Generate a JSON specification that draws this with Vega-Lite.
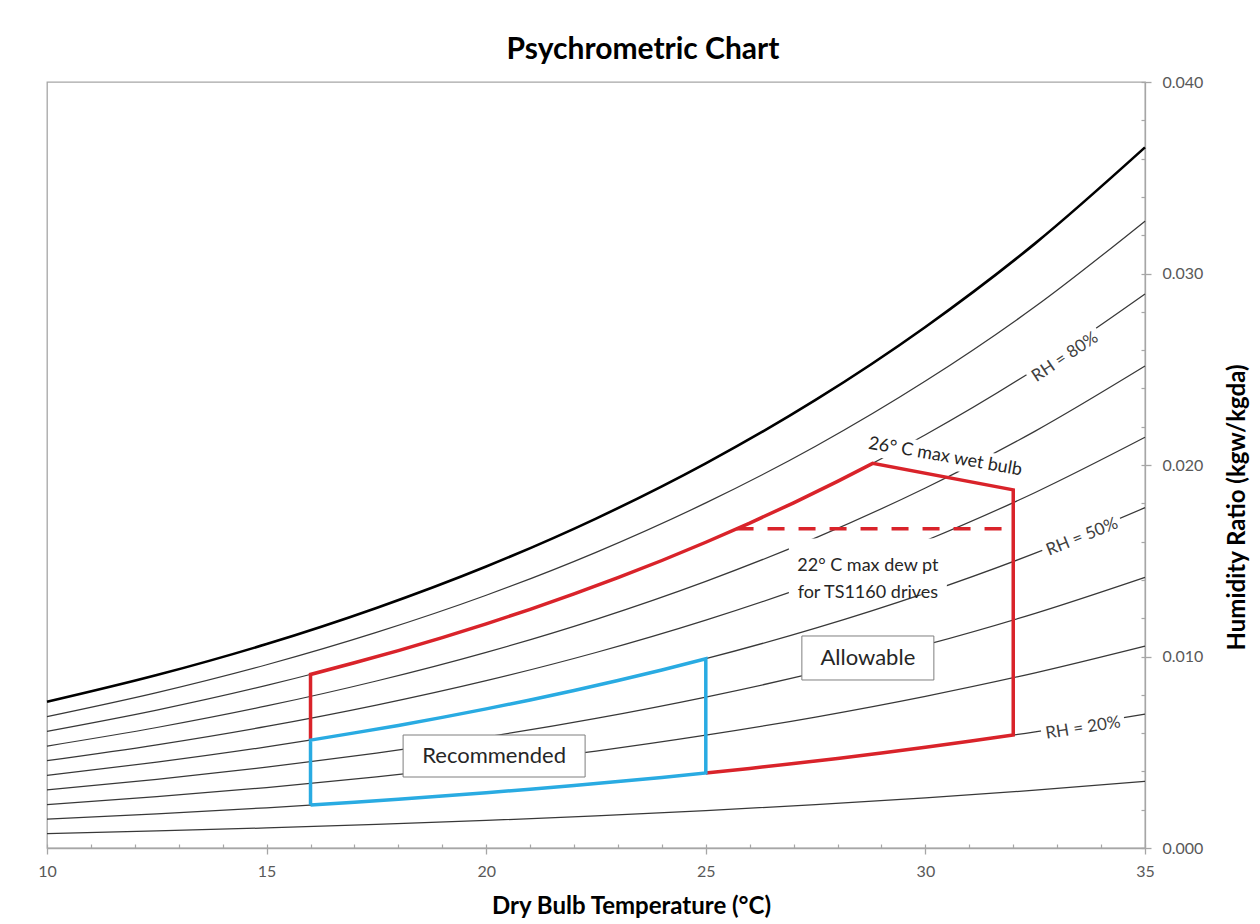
{
  "$schema": "https://vega.github.io/schema/vega-lite/v6.json",
  "width": 1098,
  "height": 766,
  "autosize": {"type": "none"},
  "padding": {"left": 47, "top": 82, "right": 115, "bottom": 76},
  "background": "white",
  "title": {"text": "Psychrometric Chart", "font": "Lato", "fontSize": 30, "fontWeight": "bold", "color": "#000000", "anchor": "middle", "dx": 47, "offset": 9},
  "config": {"view": {"stroke": "#a6a6a6", "strokeWidth": 1.3}, "font": "Lato"},
  "datasets": {
    "rh": [
      {"T": 10, "W": 0.007632, "rh": 100}, {"T": 12.5, "W": 0.009028, "rh": 100}, {"T": 15, "W": 0.010650, "rh": 100}, {"T": 17.5, "W": 0.012534, "rh": 100}, {"T": 20, "W": 0.014699, "rh": 100}, {"T": 22.5, "W": 0.017203, "rh": 100}, {"T": 25, "W": 0.020087, "rh": 100}, {"T": 27.5, "W": 0.023398, "rh": 100}, {"T": 30, "W": 0.027209, "rh": 100}, {"T": 32.5, "W": 0.031573, "rh": 100}, {"T": 35, "W": 0.036587, "rh": 100},
      {"T": 10, "W": 0.006860, "rh": 90}, {"T": 12.5, "W": 0.008114, "rh": 90}, {"T": 15, "W": 0.009569, "rh": 90}, {"T": 17.5, "W": 0.011258, "rh": 90}, {"T": 20, "W": 0.013198, "rh": 90}, {"T": 22.5, "W": 0.015440, "rh": 90}, {"T": 25, "W": 0.018020, "rh": 90}, {"T": 27.5, "W": 0.020979, "rh": 90}, {"T": 30, "W": 0.024382, "rh": 90}, {"T": 32.5, "W": 0.028273, "rh": 90}, {"T": 35, "W": 0.032736, "rh": 90},
      {"T": 10, "W": 0.006091, "rh": 80}, {"T": 12.5, "W": 0.007202, "rh": 80}, {"T": 15, "W": 0.008491, "rh": 80}, {"T": 17.5, "W": 0.009987, "rh": 80}, {"T": 20, "W": 0.011704, "rh": 80}, {"T": 22.5, "W": 0.013687, "rh": 80}, {"T": 25, "W": 0.015967, "rh": 80}, {"T": 27.5, "W": 0.018579, "rh": 80}, {"T": 30, "W": 0.021579, "rh": 80}, {"T": 32.5, "W": 0.025005, "rh": 80}, {"T": 35, "W": 0.028929, "rh": 80},
      {"T": 10, "W": 0.005323, "rh": 70}, {"T": 12.5, "W": 0.006292, "rh": 70}, {"T": 15, "W": 0.007417, "rh": 70}, {"T": 17.5, "W": 0.008721, "rh": 70}, {"T": 20, "W": 0.010217, "rh": 70}, {"T": 22.5, "W": 0.011943, "rh": 70}, {"T": 25, "W": 0.013926, "rh": 70}, {"T": 27.5, "W": 0.016196, "rh": 70}, {"T": 30, "W": 0.018800, "rh": 70}, {"T": 32.5, "W": 0.021770, "rh": 70}, {"T": 35, "W": 0.025167, "rh": 70},
      {"T": 10, "W": 0.004557, "rh": 60}, {"T": 12.5, "W": 0.005386, "rh": 60}, {"T": 15, "W": 0.006347, "rh": 60}, {"T": 17.5, "W": 0.007460, "rh": 60}, {"T": 20, "W": 0.008737, "rh": 60}, {"T": 22.5, "W": 0.010209, "rh": 60}, {"T": 25, "W": 0.011899, "rh": 60}, {"T": 27.5, "W": 0.013831, "rh": 60}, {"T": 30, "W": 0.016045, "rh": 60}, {"T": 32.5, "W": 0.018567, "rh": 60}, {"T": 35, "W": 0.021448, "rh": 60},
      {"T": 10, "W": 0.003793, "rh": 50}, {"T": 12.5, "W": 0.004482, "rh": 50}, {"T": 15, "W": 0.005280, "rh": 50}, {"T": 17.5, "W": 0.006205, "rh": 50}, {"T": 20, "W": 0.007264, "rh": 50}, {"T": 22.5, "W": 0.008484, "rh": 50}, {"T": 25, "W": 0.009884, "rh": 50}, {"T": 27.5, "W": 0.011483, "rh": 50}, {"T": 30, "W": 0.013314, "rh": 50}, {"T": 32.5, "W": 0.015396, "rh": 50}, {"T": 35, "W": 0.017771, "rh": 50},
      {"T": 10, "W": 0.003030, "rh": 40}, {"T": 12.5, "W": 0.003580, "rh": 40}, {"T": 15, "W": 0.004217, "rh": 40}, {"T": 17.5, "W": 0.004954, "rh": 40}, {"T": 20, "W": 0.005797, "rh": 40}, {"T": 22.5, "W": 0.006769, "rh": 40}, {"T": 25, "W": 0.007882, "rh": 40}, {"T": 27.5, "W": 0.009153, "rh": 40}, {"T": 30, "W": 0.010605, "rh": 40}, {"T": 32.5, "W": 0.012256, "rh": 40}, {"T": 35, "W": 0.014136, "rh": 40},
      {"T": 10, "W": 0.002270, "rh": 30}, {"T": 12.5, "W": 0.002681, "rh": 30}, {"T": 15, "W": 0.003157, "rh": 30}, {"T": 17.5, "W": 0.003708, "rh": 30}, {"T": 20, "W": 0.004338, "rh": 30}, {"T": 22.5, "W": 0.005063, "rh": 30}, {"T": 25, "W": 0.005893, "rh": 30}, {"T": 27.5, "W": 0.006839, "rh": 30}, {"T": 30, "W": 0.007920, "rh": 30}, {"T": 32.5, "W": 0.009147, "rh": 30}, {"T": 35, "W": 0.010542, "rh": 30},
      {"T": 10, "W": 0.001512, "rh": 20}, {"T": 12.5, "W": 0.001785, "rh": 20}, {"T": 15, "W": 0.002101, "rh": 20}, {"T": 17.5, "W": 0.002467, "rh": 20}, {"T": 20, "W": 0.002885, "rh": 20}, {"T": 22.5, "W": 0.003366, "rh": 20}, {"T": 25, "W": 0.003916, "rh": 20}, {"T": 27.5, "W": 0.004543, "rh": 20}, {"T": 30, "W": 0.005258, "rh": 20}, {"T": 32.5, "W": 0.006068, "rh": 20}, {"T": 35, "W": 0.006989, "rh": 20},
      {"T": 10, "W": 0.000755, "rh": 10}, {"T": 12.5, "W": 0.000891, "rh": 10}, {"T": 15, "W": 0.001049, "rh": 10}, {"T": 17.5, "W": 0.001231, "rh": 10}, {"T": 20, "W": 0.001439, "rh": 10}, {"T": 22.5, "W": 0.001679, "rh": 10}, {"T": 25, "W": 0.001952, "rh": 10}, {"T": 27.5, "W": 0.002263, "rh": 10}, {"T": 30, "W": 0.002618, "rh": 10}, {"T": 32.5, "W": 0.003019, "rh": 10}, {"T": 35, "W": 0.003475, "rh": 10}
    ],
    "allow": [
      {"i": 1, "T": 25, "W": 0.003916}, {"i": 2, "T": 26, "W": 0.004156}, {"i": 3, "T": 27, "W": 0.004410}, {"i": 4, "T": 28, "W": 0.004678}, {"i": 5, "T": 29, "W": 0.004960}, {"i": 6, "T": 30, "W": 0.005258}, {"i": 7, "T": 31, "W": 0.005569}, {"i": 8, "T": 32, "W": 0.005898},
      {"i": 9, "T": 32, "W": 0.0187}, {"i": 10, "T": 28.8, "W": 0.020085}, {"i": 11, "T": 28, "W": 0.019144}, {"i": 12, "T": 27, "W": 0.018025}, {"i": 13, "T": 26, "W": 0.016965}, {"i": 14, "T": 25, "W": 0.015967}, {"i": 15, "T": 24, "W": 0.015013}, {"i": 16, "T": 23, "W": 0.014115}, {"i": 17, "T": 22, "W": 0.013265}, {"i": 18, "T": 21, "W": 0.012462}, {"i": 19, "T": 20, "W": 0.011704}, {"i": 20, "T": 19, "W": 0.010984}, {"i": 21, "T": 18, "W": 0.010308}, {"i": 22, "T": 17, "W": 0.009674}, {"i": 23, "T": 16, "W": 0.009062}, {"i": 24, "T": 16, "W": 0.005633}
    ],
    "rec": [
      {"i": 1, "T": 16, "W": 0.002241}, {"i": 2, "T": 16, "W": 0.005633}, {"i": 3, "T": 17, "W": 0.006011}, {"i": 4, "T": 18, "W": 0.006402}, {"i": 5, "T": 19, "W": 0.006820}, {"i": 6, "T": 20, "W": 0.007264}, {"i": 7, "T": 21, "W": 0.007731}, {"i": 8, "T": 22, "W": 0.008225}, {"i": 9, "T": 23, "W": 0.008747}, {"i": 10, "T": 24, "W": 0.009299}, {"i": 11, "T": 25, "W": 0.009884},
      {"i": 12, "T": 25, "W": 0.003916}, {"i": 13, "T": 24, "W": 0.003686}, {"i": 14, "T": 23, "W": 0.003470}, {"i": 15, "T": 22, "W": 0.003264}, {"i": 16, "T": 21, "W": 0.003069}, {"i": 17, "T": 20, "W": 0.002885}, {"i": 18, "T": 19, "W": 0.002710}, {"i": 19, "T": 18, "W": 0.002545}, {"i": 20, "T": 17, "W": 0.002391}, {"i": 21, "T": 16, "W": 0.002241}
    ],
    "dew": [
      {"T": 25.7, "W": 0.01667}, {"T": 32, "W": 0.01667}
    ],
    "labels": [
      {"id": "rh80", "label": "RH = 80%", "T": 33.18, "W": 0.02564},
      {"id": "rh50", "label": "RH = 50%", "T": 33.57, "W": 0.01624},
      {"id": "rh20", "label": "RH = 20%", "T": 33.59, "W": 0.006266},
      {"id": "wb", "label": "26° C max wet bulb", "T": 30.45, "W": 0.02042},
      {"id": "dew", "label": "22° C max dew pt|for TS1160 drives", "T": 28.69, "W": 0.0147},
      {"id": "allow", "label": "Allowable", "T": 28.69, "W": 0.009922},
      {"id": "rec", "label": "Recommended", "T": 20.18, "W": 0.004804}
    ]
  },
  "resolve": {"axis": {"x": "independent", "y": "independent"}},
  "layer": [
    {
      "data": {"name": "rh"},
      "transform": [{"filter": "datum.rh < 100"}],
      "mark": {"type": "line", "interpolate": "monotone", "stroke": "#383838", "strokeWidth": 1.25},
      "encoding": {
        "x": {"field": "T", "type": "quantitative", "scale": {"domain": [10, 35], "nice": false, "zero": false},
          "axis": {"orient": "bottom", "values": [10, 15, 20, 25, 30, 35], "title": "Dry Bulb Temperature (°C)", "titleFont": "Lato", "titleFontSize": 24, "titleFontWeight": "bold", "titleColor": "#000000", "titleX": 584, "titleY": 58, "titleBaseline": "middle", "labelFont": "Lato", "labelFontSize": 16, "labelColor": "#595959", "labelPadding": 9, "labelFlush": false, "tickSize": 6, "tickColor": "#a6a6a6", "tickWidth": 1.3, "domainColor": "#a6a6a6", "domainWidth": 1.3, "grid": false}},
        "y": {"field": "W", "type": "quantitative", "scale": {"domain": [0, 0.04], "nice": false},
          "axis": {"orient": "right", "values": [0, 0.01, 0.02, 0.03, 0.04], "format": ".3f", "title": "Humidity Ratio (kgw/kgda)", "titleFont": "Lato", "titleFontSize": 24, "titleFontWeight": "bold", "titleColor": "#000000", "titleAngle": 270, "titleX": 92, "titleY": 425, "titleBaseline": "middle", "labelFont": "Lato", "labelFontSize": 16, "labelColor": "#595959", "labelPadding": 11, "labelFlush": false, "tickSize": 6, "tickColor": "#a6a6a6", "tickWidth": 1.3, "domainColor": "#a6a6a6", "domainWidth": 1.3, "grid": false}},
        "detail": {"field": "rh", "type": "nominal"}
      }
    },
    {
      "data": {"name": "rh"},
      "transform": [{"filter": "datum.rh == 100"}],
      "mark": {"type": "line", "interpolate": "monotone", "stroke": "#000000", "strokeWidth": 2.6},
      "encoding": {
        "x": {"field": "T", "type": "quantitative", "axis": null},
        "y": {"field": "W", "type": "quantitative", "axis": null}
      }
    },
    {
      "data": {"name": "labels"},
      "transform": [{"filter": "datum.id == 'rh80'"}],
      "mark": {"type": "point", "shape": "M-1,-0.262L1,-0.262L1,0.262L-1,0.262Z", "size": 7056, "angle": -34, "filled": true, "fill": "white", "opacity": 1, "strokeWidth": 0},
      "encoding": {"x": {"field": "T", "type": "quantitative", "axis": null}, "y": {"field": "W", "type": "quantitative", "axis": null}}
    },
    {
      "data": {"name": "labels"},
      "transform": [{"filter": "datum.id == 'rh50'"}],
      "mark": {"type": "point", "shape": "M-1,-0.262L1,-0.262L1,0.262L-1,0.262Z", "size": 7056, "angle": -22, "filled": true, "fill": "white", "opacity": 1, "strokeWidth": 0},
      "encoding": {"x": {"field": "T", "type": "quantitative", "axis": null}, "y": {"field": "W", "type": "quantitative", "axis": null}}
    },
    {
      "data": {"name": "labels"},
      "transform": [{"filter": "datum.id == 'rh20'"}],
      "mark": {"type": "point", "shape": "M-1,-0.262L1,-0.262L1,0.262L-1,0.262Z", "size": 7056, "angle": -9, "filled": true, "fill": "white", "opacity": 1, "strokeWidth": 0},
      "encoding": {"x": {"field": "T", "type": "quantitative", "axis": null}, "y": {"field": "W", "type": "quantitative", "axis": null}}
    },
    {
      "data": {"name": "labels"},
      "transform": [{"filter": "datum.id == 'wb'"}],
      "mark": {"type": "point", "shape": "M-1,-0.15L1,-0.15L1,0.15L-1,0.15Z", "size": 25600, "angle": 10, "filled": true, "fill": "white", "opacity": 1, "strokeWidth": 0},
      "encoding": {"x": {"field": "T", "type": "quantitative", "axis": null}, "y": {"field": "W", "type": "quantitative", "axis": null}}
    },
    {
      "data": {"name": "labels"},
      "transform": [{"filter": "datum.id == 'dew'"}],
      "mark": {"type": "point", "shape": "M-1,-0.354L1,-0.354L1,0.354L-1,0.354Z", "size": 24964, "filled": true, "fill": "white", "opacity": 1, "strokeWidth": 0},
      "encoding": {"x": {"field": "T", "type": "quantitative", "axis": null}, "y": {"field": "W", "type": "quantitative", "axis": null}}
    },
    {
      "data": {"name": "allow"},
      "mark": {"type": "line", "stroke": "#d9232a", "strokeWidth": 3.5, "strokeJoin": "miter"},
      "encoding": {
        "x": {"field": "T", "type": "quantitative",
          "axis": {"orient": "bottom", "values": [10, 11, 12, 13, 14, 15, 16, 17, 18, 19, 20, 21, 22, 23, 24, 25, 26, 27, 28, 29, 30, 31, 32, 33, 34, 35], "labels": false, "domain": false, "title": null, "tickSize": -4, "tickColor": "#a6a6a6", "tickWidth": 1.2, "grid": false}},
        "y": {"field": "W", "type": "quantitative",
          "axis": {"orient": "right", "values": [0, 0.002, 0.004, 0.006, 0.008, 0.01, 0.012, 0.014, 0.016, 0.018, 0.02, 0.022, 0.024, 0.026, 0.028, 0.03, 0.032, 0.034, 0.036, 0.038, 0.04], "labels": false, "domain": false, "title": null, "tickSize": -4, "tickColor": "#a6a6a6", "tickWidth": 1.2, "grid": false}},
        "order": {"field": "i", "type": "quantitative"}
      }
    },
    {
      "data": {"name": "dew"},
      "mark": {"type": "line", "stroke": "#d9232a", "strokeWidth": 3.5, "strokeDash": [17, 14]},
      "encoding": {
        "x": {"field": "T", "type": "quantitative", "axis": null},
        "y": {"field": "W", "type": "quantitative", "axis": null}
      }
    },
    {
      "data": {"name": "rec"},
      "mark": {"type": "line", "stroke": "#29abe2", "strokeWidth": 3.5, "strokeJoin": "miter"},
      "encoding": {
        "x": {"field": "T", "type": "quantitative", "axis": null},
        "y": {"field": "W", "type": "quantitative", "axis": null},
        "order": {"field": "i", "type": "quantitative"}
      }
    },
    {
      "data": {"name": "labels"},
      "transform": [{"filter": "datum.id == 'allow'"}],
      "mark": {"type": "point", "shape": "M-1,-0.3333L1,-0.3333L1,0.3333L-1,0.3333Z", "size": 17424, "filled": true, "fill": "white", "opacity": 1, "stroke": "#7f7f7f", "strokeWidth": 1},
      "encoding": {"x": {"field": "T", "type": "quantitative", "axis": null}, "y": {"field": "W", "type": "quantitative", "axis": null}}
    },
    {
      "data": {"name": "labels"},
      "transform": [{"filter": "datum.id == 'rec'"}],
      "mark": {"type": "point", "shape": "M-1,-0.2308L1,-0.2308L1,0.2308L-1,0.2308Z", "size": 33124, "filled": true, "fill": "white", "opacity": 1, "stroke": "#7f7f7f", "strokeWidth": 1},
      "encoding": {"x": {"field": "T", "type": "quantitative", "axis": null}, "y": {"field": "W", "type": "quantitative", "axis": null}}
    },
    {
      "data": {"name": "labels"},
      "transform": [{"filter": "datum.id == 'allow' || datum.id == 'rec'"}],
      "mark": {"type": "text", "font": "Lato", "fontSize": 22, "color": "#262626", "align": "center", "baseline": "middle"},
      "encoding": {"x": {"field": "T", "type": "quantitative", "axis": null}, "y": {"field": "W", "type": "quantitative", "axis": null}, "text": {"field": "label"}}
    },
    {
      "data": {"name": "labels"},
      "transform": [{"filter": "datum.id == 'rh80'"}],
      "mark": {"type": "text", "font": "Lato", "fontSize": 17, "color": "#404040", "align": "center", "baseline": "middle", "angle": -34},
      "encoding": {"x": {"field": "T", "type": "quantitative", "axis": null}, "y": {"field": "W", "type": "quantitative", "axis": null}, "text": {"field": "label"}}
    },
    {
      "data": {"name": "labels"},
      "transform": [{"filter": "datum.id == 'rh50'"}],
      "mark": {"type": "text", "font": "Lato", "fontSize": 17, "color": "#404040", "align": "center", "baseline": "middle", "angle": -22},
      "encoding": {"x": {"field": "T", "type": "quantitative", "axis": null}, "y": {"field": "W", "type": "quantitative", "axis": null}, "text": {"field": "label"}}
    },
    {
      "data": {"name": "labels"},
      "transform": [{"filter": "datum.id == 'rh20'"}],
      "mark": {"type": "text", "font": "Lato", "fontSize": 17, "color": "#404040", "align": "center", "baseline": "middle", "angle": -9},
      "encoding": {"x": {"field": "T", "type": "quantitative", "axis": null}, "y": {"field": "W", "type": "quantitative", "axis": null}, "text": {"field": "label"}}
    },
    {
      "data": {"name": "labels"},
      "transform": [{"filter": "datum.id == 'wb'"}],
      "mark": {"type": "text", "font": "Lato", "fontSize": 18, "color": "#262626", "align": "center", "baseline": "middle", "angle": 10},
      "encoding": {"x": {"field": "T", "type": "quantitative", "axis": null}, "y": {"field": "W", "type": "quantitative", "axis": null}, "text": {"field": "label"}}
    },
    {
      "data": {"name": "labels"},
      "transform": [{"filter": "datum.id == 'dew'"}],
      "mark": {"type": "text", "font": "Lato", "fontSize": 18, "color": "#262626", "align": "center", "baseline": "middle", "lineBreak": "|", "lineHeight": 27},
      "encoding": {"x": {"field": "T", "type": "quantitative", "axis": null}, "y": {"field": "W", "type": "quantitative", "axis": null}, "text": {"field": "label"}}
    }
  ]
}
